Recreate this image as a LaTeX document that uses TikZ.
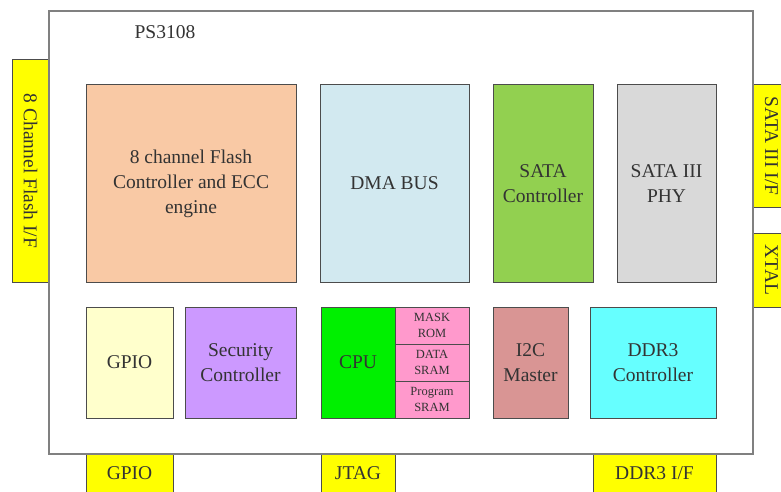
\documentclass[tikz,border=0pt]{standalone}
\usepackage{fontspec}
\setmainfont{Liberation Serif}
\definecolor{flashc}{HTML}{F9C9A5}
\definecolor{dmac}{HTML}{D2E9F0}
\definecolor{satac}{HTML}{92D050}
\definecolor{phyc}{HTML}{D9D9D9}
\definecolor{gpioc}{HTML}{FFFFCC}
\definecolor{secc}{HTML}{CC99FF}
\definecolor{cpuc}{HTML}{00F000}
\definecolor{memc}{HTML}{FF99CC}
\definecolor{i2cc}{HTML}{D99594}
\definecolor{ddrc}{HTML}{66FFFF}
\definecolor{portc}{HTML}{FFFF00}
\begin{document}
\begin{tikzpicture}[x=1pt, y=-1pt,
  blk/.style={draw=black!70, line width=1pt, text=black!80, align=center, inner sep=2pt,
              font=\fontsize{19.5}{25}\selectfont},
  port/.style={blk, fill=portc},
  mem/.style={blk, fill=memc, minimum width=74pt, minimum height=37pt,
              font=\fontsize{12.5}{16}\selectfont}]
\useasboundingbox (0,0) rectangle (781,492);
\node[port, rotate=-90, minimum width=222pt, minimum height=37pt] (flashif) at (30.5,171) {8 Channel Flash I/F};
\node[port, rotate=-90, minimum width=122pt, minimum height=37pt] (sataif) at (771.5,146) {SATA III I/F};
\node[port, rotate=-90, minimum width=74pt, minimum height=37pt] (xtal) at (771.5,270) {XTAL};
\node[port, minimum width=87pt, minimum height=46pt] (gpioif) at (129.5,477) {\raisebox{8pt}{GPIO}};
\node[port, minimum width=74pt, minimum height=46pt] (jtag) at (358,477) {\raisebox{8pt}{JTAG}};
\node[port, minimum width=123pt, minimum height=46pt] (ddrif) at (654.5,477) {\raisebox{8pt}{DDR3 I/F}};
\node[draw=black!50, line width=1.5pt, fill=white, minimum width=704pt, minimum height=443pt] (chip) at (401,232.5) {};
\node[blk, draw=none] (name) at (165,32) {PS3108};
\node[blk, fill=flashc, minimum width=210pt, minimum height=197pt] (flash) at (191,183.5) {8 channel Flash\\Controller and ECC\\engine};
\node[blk, fill=dmac, minimum width=149pt, minimum height=197pt] (dma) at (394.5,183.5) {DMA BUS};
\node[blk, fill=satac, minimum width=100pt, minimum height=197pt] (satactl) at (543,183.5) {SATA\\Controller};
\node[blk, fill=phyc, minimum width=99pt, minimum height=197pt] (sataphy) at (666.5,183.5) {SATA III\\PHY};
\node[blk, fill=gpioc, minimum width=87pt, minimum height=111pt] (gpio) at (129.5,362.5) {GPIO};
\node[blk, fill=secc, minimum width=111pt, minimum height=111pt] (sec) at (240.5,362.5) {Security\\Controller};
\node[blk, fill=cpuc, minimum width=74pt, minimum height=111pt] (cpu) at (358,362.5) {CPU};
\node[mem] (maskrom) at (432,325.5) {MASK\\ROM};
\node[mem] (datasram) at (432,362.5) {DATA\\SRAM};
\node[mem] (progsram) at (432,399.5) {Program\\SRAM};
\node[blk, fill=i2cc, minimum width=75pt, minimum height=111pt] (i2c) at (530.5,362.5) {I2C\\Master};
\node[blk, fill=ddrc, minimum width=126pt, minimum height=111pt] (ddr) at (653,362.5) {DDR3\\Controller};
\end{tikzpicture}
\end{document}
